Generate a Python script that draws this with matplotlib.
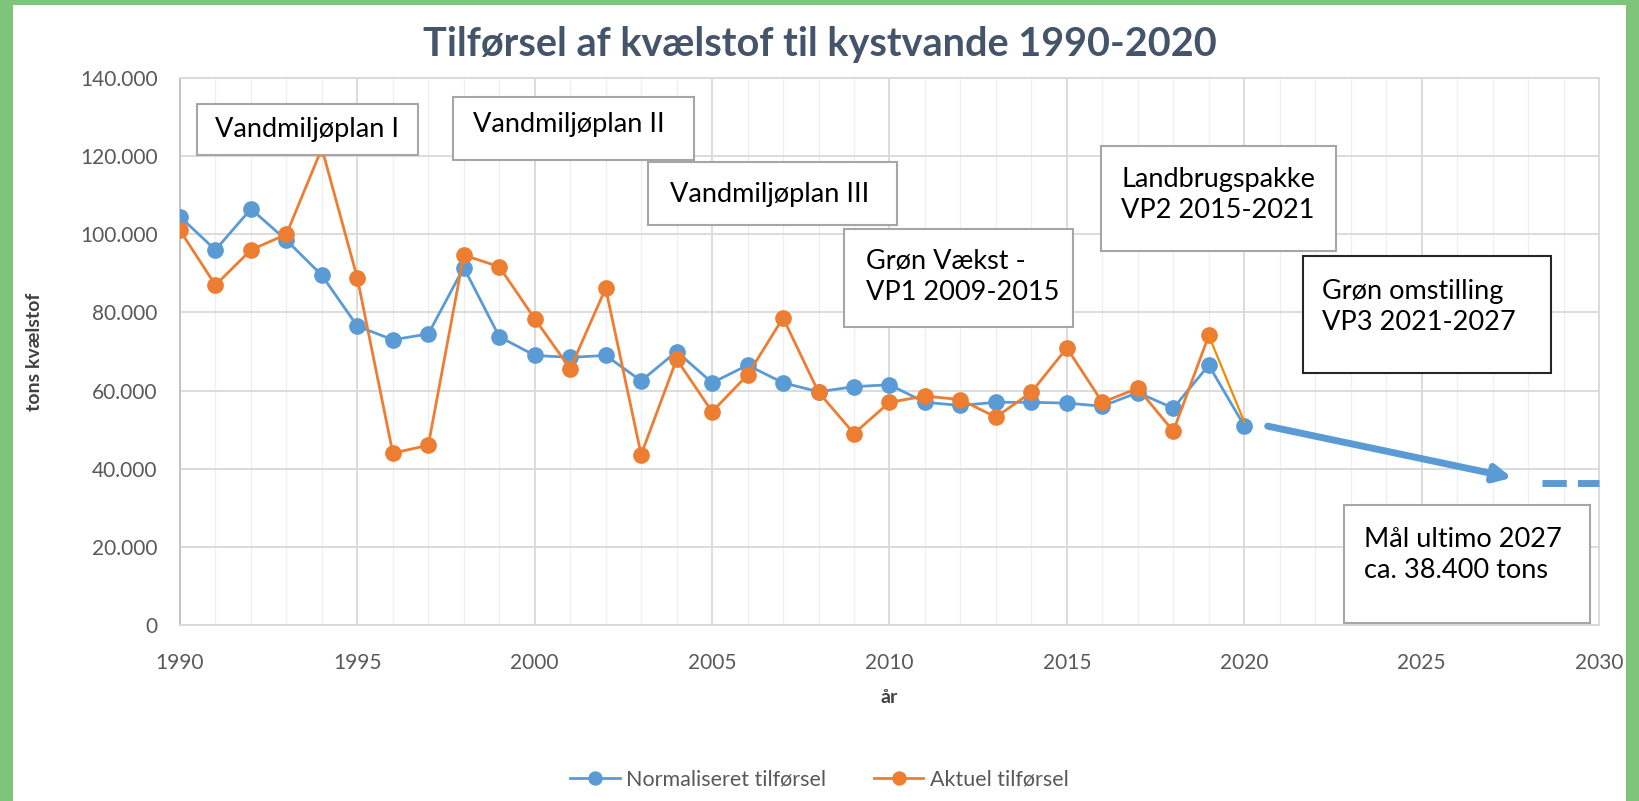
import numpy as np
import matplotlib.pyplot as plt
from matplotlib.patches import Rectangle
from matplotlib.ticker import FuncFormatter, MultipleLocator

plt.rcParams['font.family'] = ['Lato', 'DejaVu Sans']

years = list(range(1990, 2021))
normaliseret = [104.5, 96.0, 106.5, 98.5, 89.5, 76.5, 73.0, 74.5, 91.5, 73.8,
                69.0, 68.5, 69.0, 62.5, 70.0, 62.0, 66.5, 62.0, 59.7, 61.0,
                61.5, 57.0, 56.2, 57.0, 57.0, 56.8, 56.0, 59.5, 55.5, 66.5,
                51.0]
aktuel = [101.0, 87.0, 96.0, 100.0, 122.0, 88.8, 44.0, 46.0, 94.7, 91.7,
          78.4, 65.6, 86.2, 43.6, 68.0, 54.6, 64.0, 78.6, 59.6, 49.0,
          57.0, 58.6, 57.7, 53.2, 59.6, 70.9, 57.0, 60.6, 49.6, 74.1,
          52.0]
normaliseret = [v * 1000 for v in normaliseret]
aktuel = [v * 1000 for v in aktuel]

# text boxes: (text, x0, x1, y0, y1, text_x, text_y, edge colour)
boxes = [
    ("Vandmiljøplan I", 1990.47, 1996.7, 120400, 133300, 1991.0, 126800, '#a6a6a6'),
    ("Vandmiljøplan II", 1997.7, 2004.5, 119100, 135200, 1998.25, 128000, '#a6a6a6'),
    ("Vandmiljøplan III", 2003.2, 2010.2, 102500, 118600, 2003.8, 110300, '#a6a6a6'),
    ("Grøn Vækst -\nVP1 2009-2015", 2008.73, 2015.18, 76300, 101400, 2009.35, 89000, '#a6a6a6'),
    ("Landbrugspakke\nVP2 2015-2021", 2015.95, 2022.58, 95800, 122600, 2016.54, 110000, '#a6a6a6'),
    ("Grøn omstilling\nVP3 2021-2027", 2021.66, 2028.64, 64500, 94500, 2022.2, 81300, '#262626'),
    ("Mål ultimo 2027\nca. 38.400 tons", 2022.81, 2029.76, 500, 30800, 2023.37, 17800, '#a6a6a6'),
]

blue = '#5b9bd5'
orange = '#ed7d31'

fig = plt.figure(figsize=(16.39, 8.01), dpi=100)
ax = fig.add_axes([0.1098, 0.2197, 0.8658, 0.6829])

ax.plot(years, normaliseret, color=blue, lw=2, marker='o', ms=11,
        label='Normaliseret tilførsel', zorder=3)
ax.plot(years[:-1], aktuel[:-1], color=orange, lw=2, marker='o', ms=11,
        label='Aktuel tilførsel', zorder=4)
ax.plot(years[-2:], aktuel[-2:], color='#f08c00', lw=1.6, zorder=4)

# forecast arrow and target
ax.annotate('', xy=(2027.55, 37700), xytext=(2020.66, 50900),
            arrowprops=dict(arrowstyle='-|>,head_length=1.0,head_width=0.5',
                            color=blue, lw=5, shrinkA=0, shrinkB=0), zorder=5)
ax.plot([2028.4, 2030.0], [36400, 36400], color=blue, lw=5,
        dashes=(3.5, 1.6), solid_capstyle='butt', clip_on=False, zorder=5)

for text, x0, x1, y0, y1, tx, ty, ec in boxes:
    ax.add_patch(Rectangle((x0, y0), x1 - x0, y1 - y0, facecolor='white',
                           edgecolor=ec, lw=1.5, zorder=6, clip_on=False))
    ax.text(tx, ty, text, ha='left', va='center', fontsize=19.5,
            color='black', linespacing=1.3, zorder=7)

ax.set_xlim(1990, 2030)
ax.set_ylim(0, 140000)
ax.xaxis.set_major_locator(MultipleLocator(5))
ax.xaxis.set_minor_locator(MultipleLocator(1))
ax.yaxis.set_major_locator(MultipleLocator(20000))
ax.yaxis.set_major_formatter(FuncFormatter(
    lambda v, p: '0' if v == 0 else f'{int(v):,}'.replace(',', '.')))
ax.grid(which='major', color='#d9d9d9', lw=1.3, zorder=0)
ax.grid(which='minor', axis='x', color='#efefef', lw=0.9, zorder=0)
ax.set_axisbelow(True)
ax.tick_params(which='both', length=0, labelsize=15, labelcolor='#595959')
ax.tick_params(axis='x', pad=20)
ax.tick_params(axis='y', pad=16)
for s in ax.spines.values():
    s.set_color('#d9d9d9')
    s.set_linewidth(1.3)
ax.spines['left'].set_color('#bfbfbf')

ax.set_xlabel('år', fontsize=14, fontweight='bold', color='#404040', labelpad=12)
ax.set_ylabel('tons kvælstof', fontsize=14, fontweight='bold', color='#404040',
              labelpad=27)

fig.suptitle('Tilførsel af kvælstof til kystvande 1990-2020', x=0.5, y=0.968,
             fontsize=28.5, fontweight='bold', color='#44546a')

fig.legend(loc='center', bbox_to_anchor=(0.5, 0.027), ncol=2, frameon=False,
           fontsize=15.5, labelcolor='#595959', handlelength=2.3,
           handletextpad=0.3, columnspacing=2.2, markerscale=0.85)

# green frame
green = '#7ec47a'
W, H = 1639, 801
fig.patches.append(Rectangle((0, 0), 13 / W, 1, transform=fig.transFigure,
                             facecolor=green, edgecolor='none'))
fig.patches.append(Rectangle((1626 / W, 0), 13 / W, 1, transform=fig.transFigure,
                             facecolor=green, edgecolor='none'))
fig.patches.append(Rectangle((0, 1 - 5 / H), 1, 5 / H, transform=fig.transFigure,
                             facecolor=green, edgecolor='none'))

fig.savefig('out.png', dpi=100)
